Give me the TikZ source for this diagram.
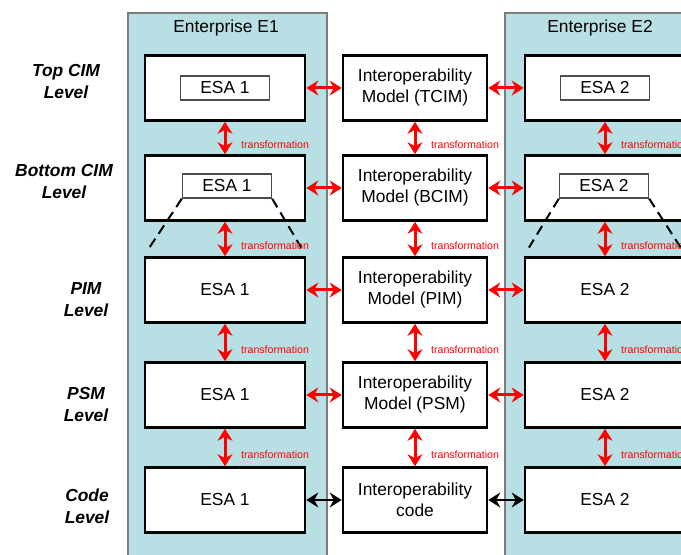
\documentclass[tikz,border=0pt]{standalone}
\usepackage{fontspec}
\setmainfont{Liberation Sans}
\usetikzlibrary{arrows.meta,calc}
\definecolor{entblue}{RGB}{184,224,228}
\definecolor{entgray}{RGB}{125,125,125}
\begin{document}
\begin{tikzpicture}[x=0.5pt,y=-0.5pt,>={Stealth[length=6pt,width=7.5pt,inset=2pt]},
	every node/.style={font=\fontsize{8.7}{10.5}\selectfont},
	model/.style={draw,line width=1.3pt,fill=white,minimum height=32.5pt,align=center,inner sep=0pt},
	esa/.style={model,minimum width=80pt},
	imodel/.style={model,minimum width=72pt},
	esabox/.style={draw=black!70,line width=0.7pt,fill=white,minimum width=44.5pt,minimum height=12pt,inner sep=0pt},
	trans/.style={red,line width=1.5pt,<->},
	codearrow/.style={black,line width=1pt,<->},
	tlabel/.style={text=red,font=\fontsize{5.3}{6}\selectfont,anchor=west,xshift=4pt,yshift=-3.5pt},
	level/.style={font=\fontsize{8.7}{11}\selectfont\bfseries\itshape,align=center}]
	\useasboundingbox (0,0) rectangle (681,555);
	\clip (0,0) rectangle (681,555);
	\draw[entgray,line width=0.8pt,fill=entblue] (128,13) rectangle (327,565);
	\draw[entgray,line width=0.8pt,fill=entblue] (505,13) rectangle (720,565);
	\node (e1) at (226,28) {Enterprise E1};
	\node (e2) at (600,28) {Enterprise E2};
	\node[level] (top) at (66,82) {Top CIM\\Level};
	\node[level] (bot) at (64,182) {Bottom CIM\\Level};
	\node[level] (pim) at (86,300) {PIM\\Level};
	\node[level] (psm) at (86,405) {PSM\\Level};
	\node[level] (cod) at (87,506) {Code\\Level};
	\node[esa] (l1) at (225,88) {};
	\node[esa] (l2) at (225,188) {};
	\node[esa] (l3) at (225,290) {ESA 1};
	\node[esa] (l4) at (225,395) {ESA 1};
	\node[esa] (l5) at (225,500) {ESA 1};
	\node[imodel] (m1) at (415,88) {Interoperability\\Model (TCIM)};
	\node[imodel] (m2) at (415,188) {Interoperability\\Model (BCIM)};
	\node[imodel] (m3) at (415,290) {Interoperability\\Model (PIM)};
	\node[imodel] (m4) at (415,395) {Interoperability\\Model (PSM)};
	\node[imodel] (m5) at (415,500) {Interoperability\\code};
	\node[esa] (r1) at (605,88) {};
	\node[esa] (r2) at (605,188) {};
	\node[esa] (r3) at (605,290) {ESA 2};
	\node[esa] (r4) at (605,395) {ESA 2};
	\node[esa] (r5) at (605,500) {ESA 2};
	\node[esabox] (il1) at (l1) {ESA 1};
	\node[esabox] (il2) at ($(l2)+(2,-2)$) {ESA 1};
	\node[esabox] (ir1) at (r1) {ESA 2};
	\node[esabox] (ir2) at ($(r2)+(-1,-2)$) {ESA 2};
	\foreach \s/\t/\c in {il2/l3/west,ir2/r3/west,il2/l3/east,ir2/r3/east}
		\draw[line width=1pt,dash pattern=on 5pt off 3pt] (\s.south \c) -- ($(\s.south \c)!0.85!(\t.north \c)$);
	\foreach \i in {1,...,4} {
		\draw[trans] (l\i) -- (m\i);
		\draw[trans] (m\i) -- (r\i);
	}
	\draw[codearrow] (l5) -- (m5);
	\draw[codearrow] (m5) -- (r5);
	\foreach \i/\j in {1/2,2/3,3/4,4/5}
		\foreach \c in {l,m,r}
			\draw[trans] (\c\i) -- node[tlabel]{transformation} (\c\j);
\end{tikzpicture}
\end{document}
